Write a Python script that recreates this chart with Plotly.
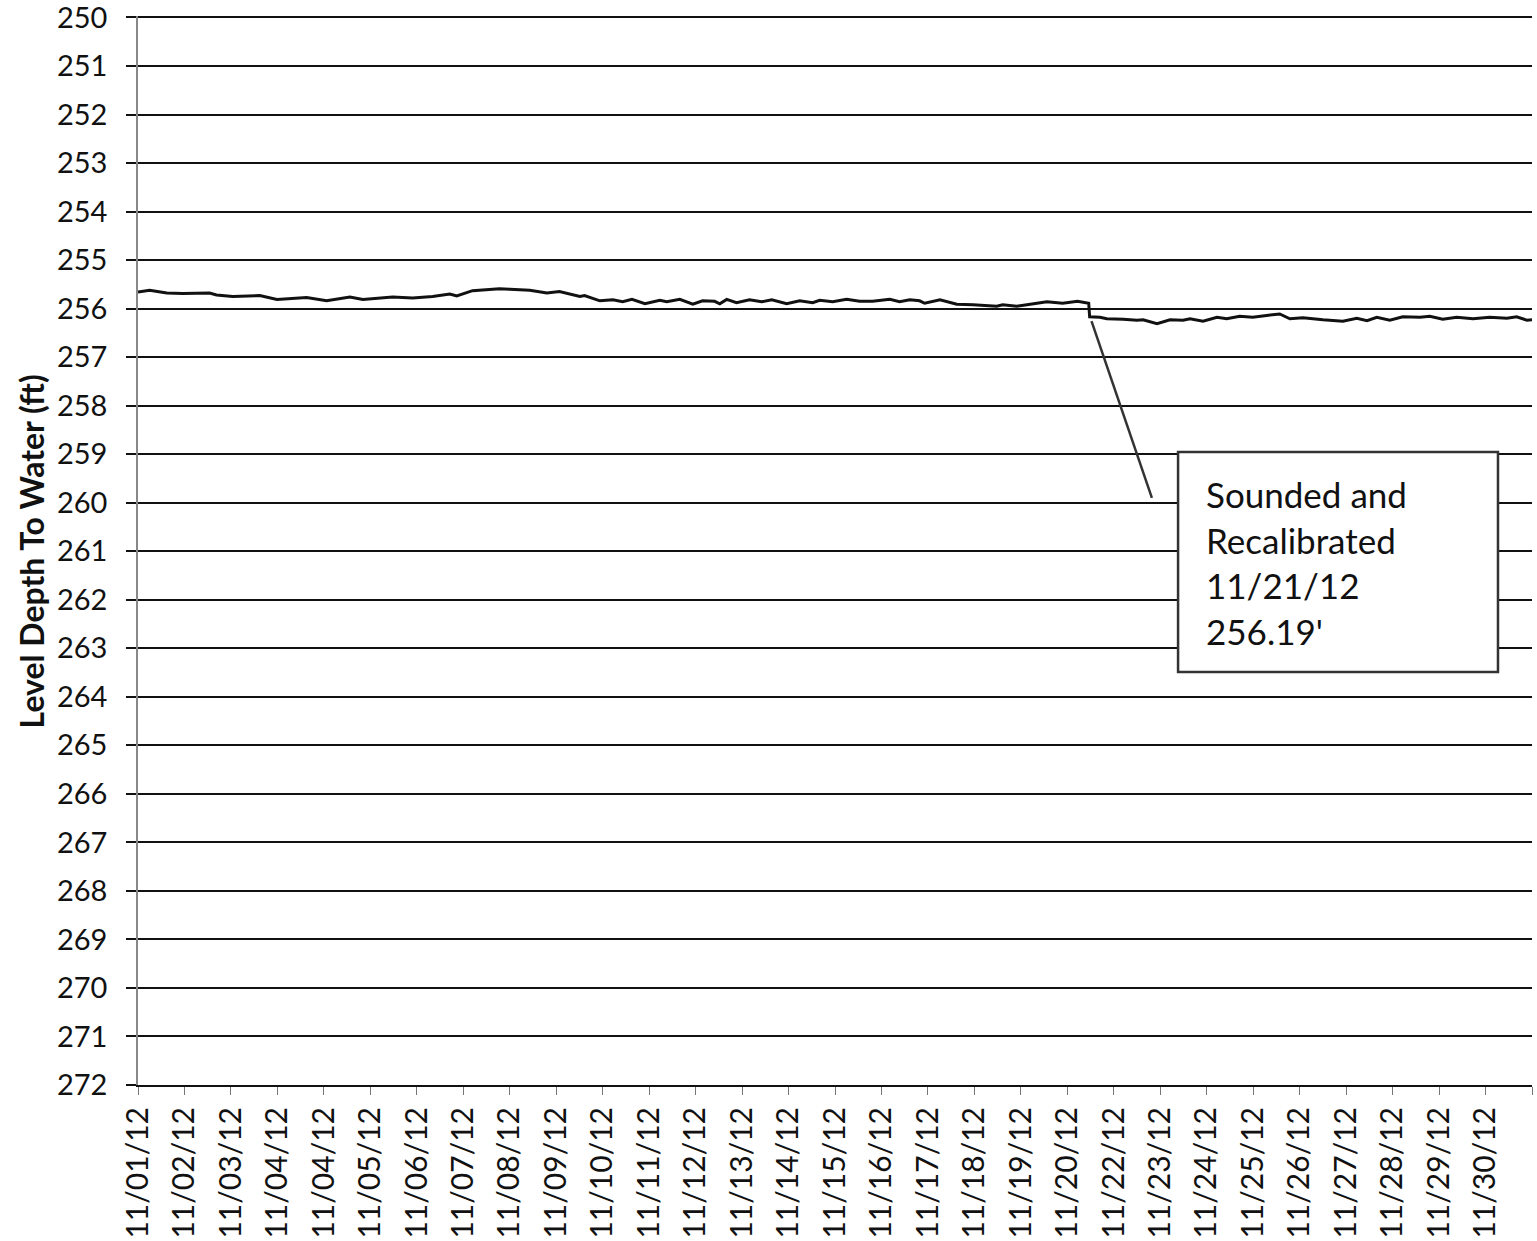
import plotly.graph_objects as go

# Tick labels as printed on the original (note duplicate 11/04 and missing 11/21)
date_labels = ["11/01/12", "11/02/12", "11/03/12", "11/04/12", "11/04/12", "11/05/12",
               "11/06/12", "11/07/12", "11/08/12", "11/09/12", "11/10/12", "11/11/12",
               "11/12/12", "11/13/12", "11/14/12", "11/15/12", "11/16/12", "11/17/12",
               "11/18/12", "11/19/12", "11/20/12", "11/22/12", "11/23/12", "11/24/12",
               "11/25/12", "11/26/12", "11/27/12", "11/28/12", "11/29/12", "11/30/12"]

y_ticks = list(range(250, 273))

# Position along the category axis (in label intervals) and depth to water (ft)
pos = [0.00, 0.25, 0.62, 0.96, 1.54, 1.69, 2.04, 2.62, 2.99, 3.63, 4.06, 4.56, 4.84,
       5.48, 5.91, 6.34, 6.71, 6.86, 7.20, 7.78, 8.00, 8.43, 8.80, 9.07, 9.51, 9.61,
       9.94, 10.22, 10.43, 10.63, 10.91, 11.23, 11.38, 11.66, 11.94, 12.15, 12.41,
       12.52, 12.67, 12.88, 13.16, 13.42, 13.64, 13.96, 14.24, 14.52, 14.67, 14.95,
       15.25, 15.53, 15.81, 16.18, 16.39, 16.61, 16.82, 16.93, 17.26, 17.62, 17.97,
       18.27, 18.48, 18.61, 18.91, 19.13, 19.56, 19.90, 20.22, 20.46, 20.48, 20.70,
       20.85, 21.20, 21.50, 21.63, 21.93, 22.21, 22.49, 22.64, 22.92, 23.22, 23.43,
       23.71, 23.99, 24.29, 24.57, 24.79, 25.07, 25.50, 25.93, 26.23, 26.45, 26.66,
       26.94, 27.22, 27.59, 27.80, 28.08, 28.38, 28.73, 29.09, 29.46, 29.67, 29.89,
       30.00]
depth = [255.66, 255.62, 255.68, 255.69, 255.68, 255.72, 255.75, 255.73, 255.81, 255.77,
         255.84, 255.76, 255.81, 255.76, 255.78, 255.75, 255.70, 255.74, 255.63, 255.59,
         255.60, 255.62, 255.68, 255.65, 255.75, 255.73, 255.84, 255.82, 255.86, 255.81,
         255.90, 255.83, 255.86, 255.81, 255.91, 255.84, 255.85, 255.90, 255.81, 255.88,
         255.82, 255.86, 255.82, 255.90, 255.84, 255.88, 255.83, 255.86, 255.81, 255.85,
         255.85, 255.81, 255.86, 255.82, 255.84, 255.89, 255.82, 255.91, 255.92, 255.93,
         255.95, 255.92, 255.95, 255.92, 255.86, 255.89, 255.85, 255.89, 256.17, 256.18,
         256.21, 256.22, 256.24, 256.23, 256.31, 256.23, 256.24, 256.21, 256.26, 256.18,
         256.21, 256.16, 256.18, 256.14, 256.11, 256.21, 256.19, 256.23, 256.26, 256.20,
         256.25, 256.18, 256.24, 256.17, 256.18, 256.16, 256.22, 256.18, 256.21, 256.18,
         256.20, 256.17, 256.24, 256.23]

note_text = "Sounded and<br>Recalibrated<br>11/21/12<br>256.19'"
callout_point = (20.52, 256.26)
callout_end = (21.82, 259.90)

fig = go.Figure()
fig.add_trace(go.Scatter(x=pos, y=depth, mode="lines",
                         line=dict(color="#111111", width=3), showlegend=False))

font_family = "Lato, 'Open Sans', sans-serif"

fig.update_layout(
    width=1537, height=1241, autosize=False,
    margin=dict(l=138, r=5, t=16, b=156),
    paper_bgcolor="white", plot_bgcolor="white",
    font=dict(family=font_family, color="#111111"),
    showlegend=False,
)

fig.update_xaxes(
    range=[0, len(date_labels)],
    tickmode="array",
    tickvals=list(range(len(date_labels) + 1)),
    ticktext=date_labels + [""],
    tickangle=-90,
    tickfont=dict(size=30, family=font_family, color="#111111"),
    ticks="outside", ticklen=8, tickwidth=1, tickcolor="#777777",
    ticklabeloverflow="allow",
    showgrid=False, zeroline=False,
    showline=True, linecolor="#111111", linewidth=2,
    automargin=False,
)

fig.update_yaxes(
    range=[y_ticks[-1], y_ticks[0] - 0.03],
    tickmode="array", tickvals=y_ticks, ticktext=[str(v) for v in y_ticks],
    tickfont=dict(size=29, family=font_family, color="#111111"),
    ticks="outside", ticklen=10, tickwidth=2, tickcolor="#111111",
    ticklabelstandoff=13, ticklabeloverflow="allow",
    showgrid=True, gridcolor="#111111", gridwidth=2,
    zeroline=False,
    showline=True, linecolor="#888888", linewidth=1.5,
    automargin=False,
)

# y-axis title
fig.add_annotation(
    text="<b>Level Depth To Water (ft)</b>", textangle=-90,
    xref="paper", yref="paper", x=-0.0765, y=0.4995,
    xanchor="center", yanchor="middle", showarrow=False,
    font=dict(size=32, family=font_family, color="#111111"),
)

# leader line
fig.add_shape(type="line", xref="x", yref="y",
              x0=callout_point[0], y0=callout_point[1],
              x1=callout_end[0], y1=callout_end[1],
              line=dict(color="#333333", width=2.5))

# callout box
fig.add_shape(type="rect", xref="paper", yref="paper",
              x0=0.7461, x1=0.9756, y0=0.3863, y1=0.5921,
              fillcolor="white", line=dict(color="#333333", width=2.5), layer="above")
fig.add_annotation(
    text=note_text, xref="paper", yref="paper", x=0.7647, y=0.4892,
    xanchor="left", yanchor="middle", align="left", showarrow=False,
    font=dict(size=35, family=font_family, color="#111111"),
)

fig.write_html("out.html", config={"displayModeBar": False},
               post_script="document.body.style.margin='0px';document.body.style.overflow='hidden';")
